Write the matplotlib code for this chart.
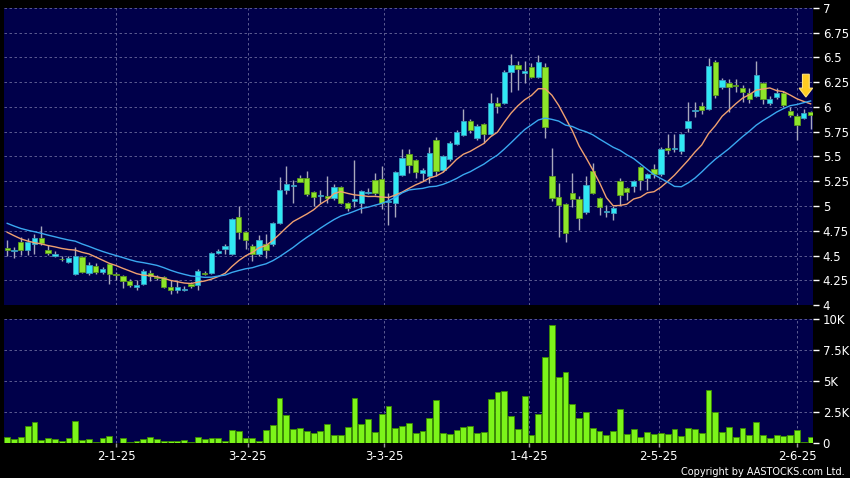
import matplotlib
matplotlib.use('Agg')
import matplotlib.pyplot as plt
import numpy as np
import pandas as pd
from matplotlib.patches import FancyArrow
from matplotlib.ticker import FixedLocator

# ---------------------------------------------------------------------------
# daily bars (prices in HKD, volume in thousands)
# ---------------------------------------------------------------------------
open_ = [4.58, 4.545, 4.64, 4.56, 4.62, 4.68, 4.56, 4.495, 4.465, 4.43,
         4.31, 4.48, 4.32, 4.39, 4.33, 4.41, 4.31, 4.29, 4.245, 4.18,
         4.21, 4.32, 4.28, 4.28, 4.18, 4.15, 4.15, 4.21, 4.20, 4.32,
         4.32, 4.53, 4.57, 4.52, 4.89, 4.74, 4.60, 4.52, 4.62, 4.62,
         4.83, 5.16, 5.20, 5.28, 5.28, 5.14, 5.10, 5.10, 5.08, 5.19,
         5.03, 5.05, 5.03, 5.13, 5.26, 5.27, 5.04, 5.03, 5.31, 5.53,
         5.46, 5.33, 5.30, 5.67, 5.36, 5.47, 5.63, 5.72, 5.86, 5.69,
         5.83, 5.73, 6.04, 6.04, 6.35, 6.42, 6.34, 6.40, 6.30, 6.40,
         5.30, 5.09, 5.02, 5.13, 5.07, 4.94, 5.35, 5.08, 4.94, 4.93,
         5.25, 5.18, 5.20, 5.39, 5.28, 5.37, 5.32, 5.59, 5.58, 5.56,
         5.79, 5.96, 6.01, 5.98, 6.45, 6.20, 6.24, 6.22, 6.19, 6.14,
         6.11, 6.24, 6.04, 6.10, 6.14, 5.96, 5.91, 5.89, 5.95]
high = [4.66, 4.59, 4.69, 4.68, 4.72, 4.80, 4.61, 4.55, 4.49, 4.49,
        4.59, 4.49, 4.43, 4.42, 4.38, 4.42, 4.33, 4.30, 4.26, 4.25,
        4.36, 4.35, 4.30, 4.29, 4.25, 4.25, 4.19, 4.23, 4.36, 4.34,
        4.54, 4.57, 4.62, 4.88, 5.00, 4.75, 4.62, 4.71, 4.72, 4.84,
        5.29, 5.40, 5.26, 5.31, 5.35, 5.15, 5.16, 5.30, 5.22, 5.20,
        5.04, 5.46, 5.16, 5.18, 5.33, 5.40, 5.13, 5.35, 5.58, 5.58,
        5.47, 5.38, 5.60, 5.70, 5.52, 5.66, 5.77, 5.98, 5.88, 5.83,
        5.84, 6.14, 6.10, 6.37, 6.54, 6.46, 6.46, 6.44, 6.53, 6.44,
        5.59, 5.23, 5.03, 5.33, 5.10, 5.30, 5.43, 5.09, 5.01, 5.00,
        5.28, 5.19, 5.26, 5.40, 5.33, 5.42, 5.60, 5.73, 5.73, 5.74,
        6.05, 6.05, 6.05, 6.49, 6.47, 6.29, 6.28, 6.28, 6.22, 6.19,
        6.46, 6.25, 6.11, 6.19, 6.16, 6.00, 5.93, 5.98, 5.96]
low = [4.50, 4.47, 4.51, 4.505, 4.52, 4.61, 4.505, 4.48, 4.44, 4.42,
       4.30, 4.32, 4.30, 4.31, 4.31, 4.21, 4.25, 4.17, 4.18, 4.15,
       4.20, 4.24, 4.25, 4.17, 4.11, 4.12, 4.14, 4.17, 4.15, 4.30,
       4.31, 4.52, 4.52, 4.51, 4.67, 4.57, 4.44, 4.50, 4.47, 4.60,
       4.82, 5.12, 5.03, 5.24, 5.10, 5.00, 5.03, 5.03, 5.06, 5.02,
       4.95, 4.99, 4.93, 5.12, 5.11, 4.97, 4.81, 4.89, 5.30, 5.33,
       5.28, 5.25, 5.23, 5.30, 5.34, 5.45, 5.62, 5.71, 5.74, 5.67,
       5.64, 5.72, 5.94, 6.03, 6.15, 6.17, 6.24, 6.29, 6.29, 5.69,
       5.05, 4.69, 4.64, 4.99, 4.76, 4.92, 5.12, 4.91, 4.89, 4.86,
       5.01, 5.06, 5.14, 5.16, 5.16, 5.28, 5.30, 5.53, 5.55, 5.53,
       5.75, 5.90, 5.93, 5.97, 6.09, 6.18, 5.95, 6.15, 6.05, 6.04,
       6.10, 6.03, 6.02, 6.08, 6.00, 5.90, 5.67, 5.88, 5.78]
close = [4.56, 4.555, 4.56, 4.64, 4.68, 4.63, 4.53, 4.52, 4.46, 4.47,
         4.50, 4.33, 4.40, 4.33, 4.36, 4.31, 4.30, 4.24, 4.20, 4.20,
         4.34, 4.29, 4.275, 4.18, 4.15, 4.18, 4.165, 4.19, 4.34, 4.315,
         4.53, 4.55, 4.60, 4.87, 4.74, 4.66, 4.52, 4.66, 4.56, 4.83,
         5.16, 5.22, 5.21, 5.245, 5.12, 5.09, 5.11, 5.08, 5.19, 5.03,
         4.98, 5.07, 5.15, 5.14, 5.13, 5.03, 5.05, 5.34, 5.48, 5.41,
         5.34, 5.36, 5.54, 5.35, 5.50, 5.64, 5.75, 5.86, 5.77, 5.81,
         5.73, 6.04, 6.01, 6.35, 6.42, 6.38, 6.36, 6.30, 6.45, 5.80,
         5.08, 5.01, 4.73, 5.07, 4.88, 5.21, 5.13, 4.99, 4.945, 4.98,
         5.11, 5.14, 5.25, 5.26, 5.32, 5.32, 5.58, 5.57, 5.585, 5.73,
         5.86, 5.97, 5.97, 6.41, 6.12, 6.27, 6.20, 6.21, 6.155, 6.08,
         6.32, 6.08, 6.08, 6.14, 6.02, 5.92, 5.82, 5.94, 5.92]
volume_k = [0.50, 0.39, 0.50, 1.39, 1.71, 0.28, 0.42, 0.37, 0.18, 0.47,
            1.79, 0.26, 0.39, 0.15, 0.47, 0.58, 0.07, 0.44, 0.15, 0.23,
            0.37, 0.53, 0.34, 0.23, 0.18, 0.18, 0.26, 0.12, 0.56, 0.39,
            0.44, 0.44, 0.18, 1.06, 1.04, 0.44, 0.42, 0.18, 1.09, 1.47,
            3.67, 2.30, 1.17, 1.25, 1.03, 0.85, 0.98, 1.57, 0.71, 0.68,
            1.33, 3.64, 1.57, 1.98, 0.95, 2.38, 3.00, 1.25, 1.41, 1.65,
            0.82, 1.03, 2.08, 3.51, 0.87, 0.76, 1.09, 1.30, 1.41, 0.87,
            0.90, 3.56, 4.13, 4.23, 2.22, 1.17, 3.83, 0.68, 2.38, 7.00,
            9.56, 5.39, 5.77, 3.19, 2.03, 2.51, 1.22, 0.98, 0.71, 1.00,
            2.76, 0.76, 1.14, 0.52, 0.90, 0.79, 0.87, 0.79, 1.14, 0.60,
            1.28, 1.17, 0.85, 4.31, 2.54, 0.90, 1.33, 0.50, 1.28, 0.68,
            1.76, 0.71, 0.42, 0.65, 0.60, 0.65, 1.12, 0.12, 0.52]

# closes before the first visible bar, only used to start the averages
prior_close = [5.10, 5.05, 5.00, 4.98, 4.95, 4.90, 4.85, 4.80, 4.78, 4.74,
               4.90, 4.88, 4.86, 4.85, 4.75, 4.70, 4.65, 4.62, 4.58]

tick_labels = ['2-1-25', '3-2-25', '3-3-25', '1-4-25', '2-5-25', '2-6-25']
tick_pos = [16.0, 35.3, 55.4, 76.7, 95.7, 116.0]

price_ticks = np.arange(4.0, 7.01, 0.25)
vol_ticks = [0, 2.5, 5, 7.5, 10]
vol_labels = ['0', '2.5K', '5K', '7.5K', '10K']

# colours
BG = '#000000'
PANEL = '#00004a'
GRID = '#6a6a9c'
UP_FACE, UP_EDGE = '#30e8f4', '#3a9cc0'
DN_FACE, DN_EDGE = '#8ee62a', '#5c9a1c'
WICK = '#a8a8bc'
MA10_C = '#f0a070'
MA20_C = '#3aa8f0'
VOL_FACE, VOL_EDGE = '#7cf41a', '#3c8c00'
TXT = '#ffffff'

o = np.array(open_)
h = np.array(high)
l = np.array(low)
c = np.array(close)
x = np.arange(len(c))

allc = pd.Series(prior_close + close)
ma10 = allc.rolling(10).mean().values[len(prior_close):]
ma20 = allc.rolling(20).mean().values[len(prior_close):]

up = c >= o
face = np.where(up, UP_FACE, DN_FACE)
edge = np.where(up, UP_EDGE, DN_EDGE)

fig = plt.figure(figsize=(8.5, 4.78), dpi=100, facecolor=BG)
ax = fig.add_axes([0.0047, 0.3619, 0.9518, 0.6214])
axv = fig.add_axes([0.0047, 0.0722, 0.9518, 0.2594], sharex=ax)

# --- price panel ---
ax.set_facecolor(PANEL)
ax.vlines(x, l, h, color=WICK, linewidth=1, zorder=2)
ax.bar(x, np.maximum(np.abs(c - o), 0.008), bottom=np.minimum(o, c), width=0.78,
       color=face, edgecolor=edge, linewidth=0.6, zorder=3)
ax.plot(x, ma10, color=MA10_C, linewidth=1, zorder=4)
ax.plot(x, ma20, color=MA20_C, linewidth=1, zorder=4)

# signal arrow above the last average
tip = max(ma10[-1], ma20[-1]) + 0.04
ax.add_patch(FancyArrow(x[-1] - 0.7, tip + 0.23, 0, -0.23, width=1.0,
                        head_width=2.0, head_length=0.09,
                        length_includes_head=True, facecolor='#ffcc22',
                        edgecolor='#ffe27a', linewidth=0.8, zorder=6))

ax.set_xlim(-0.47, 118.35)
ax.set_ylim(4, 7)
ax.yaxis.set_major_locator(FixedLocator(price_ticks))
ax.set_yticklabels(['%g' % t for t in price_ticks])
ax.yaxis.tick_right()
ax.set_xticks(tick_pos)
ax.tick_params(axis='x', bottom=False, labelbottom=False)
ax.tick_params(axis='y', colors=TXT, labelcolor=TXT, length=4, width=1,
               pad=3, labelsize=8.5)
ax.grid(True, color=GRID, linestyle=(0, (3, 3)), linewidth=0.6, zorder=0)
ax.set_axisbelow(True)
for s in ax.spines.values():
    s.set_visible(False)

# --- volume panel ---
axv.set_facecolor(PANEL)
axv.bar(x, volume_k, width=0.86, color=VOL_FACE, edgecolor=VOL_EDGE,
        linewidth=0.6, zorder=3)
axv.set_ylim(0, 10)
axv.set_yticks(vol_ticks)
axv.set_yticklabels(vol_labels)
axv.yaxis.tick_right()
axv.set_xticks(tick_pos)
axv.set_xticklabels(tick_labels)
axv.tick_params(axis='y', colors=TXT, labelcolor=TXT, length=4, width=1,
                pad=3, labelsize=8.5)
axv.tick_params(axis='x', colors='#9a9a9a', labelcolor=TXT, length=3,
                width=1, pad=1.5, labelsize=8.5)
axv.grid(True, color=GRID, linestyle=(0, (3, 3)), linewidth=0.6, zorder=0)
axv.set_axisbelow(True)
for s in axv.spines.values():
    s.set_visible(False)

fig.text(0.994, 0.003, 'Copyright by AASTOCKS.com Ltd.', color=TXT,
         fontsize=7, ha='right', va='bottom')

fig.savefig('out.png', dpi=100, facecolor=BG)
